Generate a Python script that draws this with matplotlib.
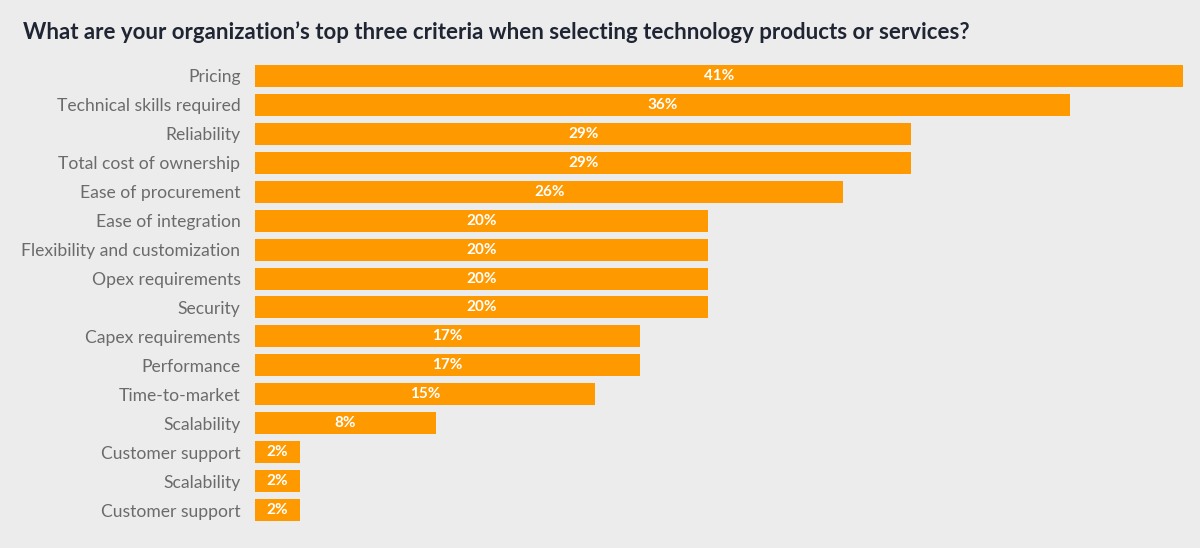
import matplotlib.pyplot as plt

categories = ["Pricing", "Technical skills required", "Reliability", "Total cost of ownership",
              "Ease of procurement", "Ease of integration", "Flexibility and customization",
              "Opex requirements", "Security", "Capex requirements", "Performance",
              "Time-to-market", "Scalability", "Customer support", "Scalability",
              "Customer support"]
values = [41, 36, 29, 29, 26, 20, 20, 20, 20, 17, 17, 15, 8, 2, 2, 2]

bg = "#ececec"
bar_color = "#ff9900"

fig = plt.figure(figsize=(12, 5.48), dpi=100, facecolor=bg)
ax = fig.add_axes([255 / 1200, 1 - 524.5 / 548, (1183 - 255) / 1200, (524.5 - 61.5) / 548])
ax.set_facecolor(bg)

y = list(range(len(categories)))
bars = ax.barh(y, values, height=0.76, color=bar_color)
ax.set_xlim(0, 41)
ax.set_ylim(len(categories) - 0.5, -0.5)

for bar, v in zip(bars, values):
    ax.text(bar.get_width() / 2, bar.get_y() + bar.get_height() / 2, f"{v}%",
            ha="center", va="center", color="white", fontsize=11,
            fontweight="bold", family="Lato")

ax.set_yticks(y)
ax.set_yticklabels(categories, fontsize=12.6, color="#6b6b6b", family="Lato")
ax.tick_params(axis="y", length=0, pad=10.5)
ax.set_xticks([])
for s in ax.spines.values():
    s.set_visible(False)

fig.text(23 / 1200, 1 - 32 / 548,
         "What are your organization\u2019s top three criteria when selecting technology products or services?",
         ha="left", va="center", fontsize=16, fontweight="bold", color="#1f2533", family="Lato")

fig.savefig("out.png", dpi=100, facecolor=bg)
